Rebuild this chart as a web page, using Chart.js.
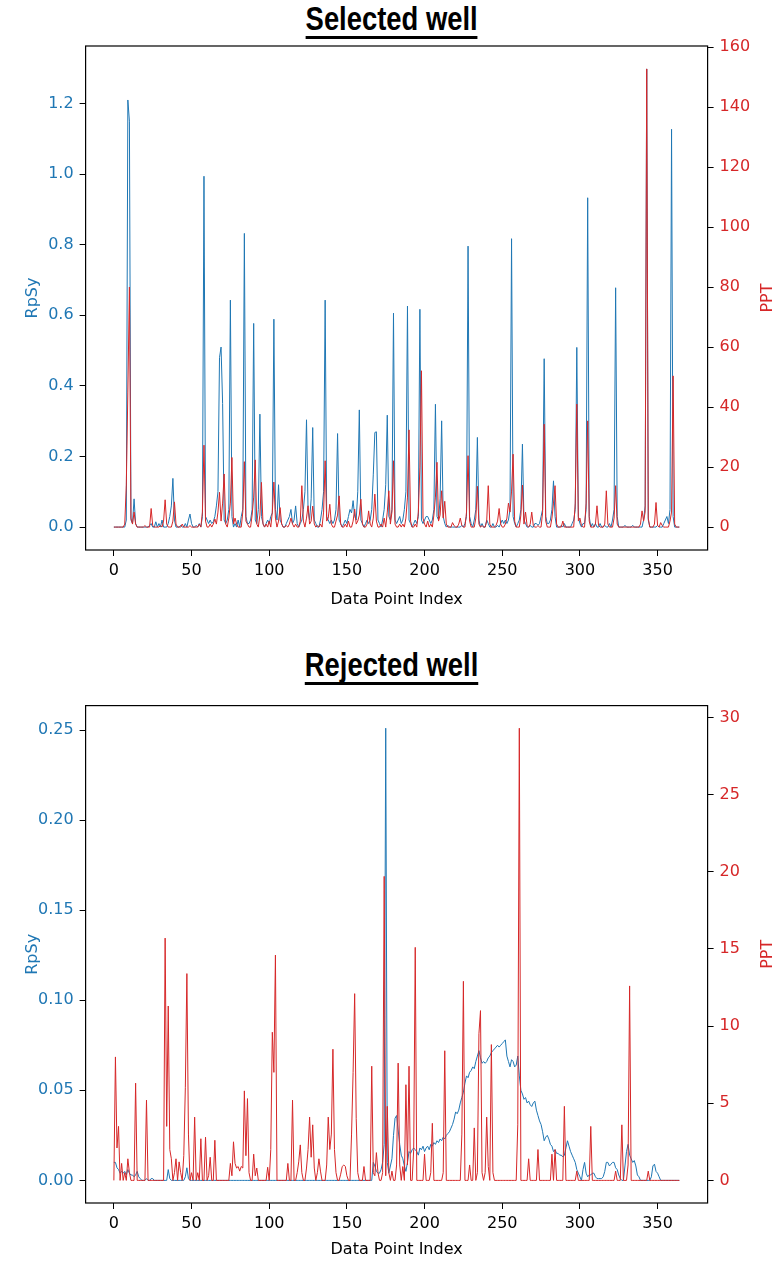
<!DOCTYPE html>
<html>
<head>
<meta charset="utf-8">
<script src="https://cdn.jsdelivr.net/npm/chart.js@4.4.0/dist/chart.umd.min.js"></script>
<style>
  html, body { margin: 0; padding: 0; background: #fff; }
  body { position: relative; width: 777px; height: 1263px; overflow: hidden; }
  canvas { position: absolute; left: 0; }
  .titulo {
    position: absolute; left: 0; width: 784px; text-align: center;
    font-family: "Liberation Sans Narrow", "Liberation Sans", Arial, sans-serif;
    font-weight: bold; font-size: 33px; line-height: 33px; color: #000;
  }
  .titulo span {
    display: inline-block; border-bottom: 3px solid #000; padding-bottom: 1px;
    transform: scaleX(0.83); transform-origin: center;
  }
</style>
</head>
<body>
<div class="titulo" style="top:2px"><span>Selected well</span></div>
<canvas id="cSel" width="777" height="590" style="top:30px"></canvas>
<div class="titulo" style="top:648px"><span>Rejected well</span></div>
<canvas id="cRej" width="777" height="573" style="top:690px"></canvas>
<script>
/* Dados: indice 0..364 */
var X_TICKS = [0, 50, 100, 150, 200, 250, 300, 350];
var SEL_RPSY_TICKS = [0, 0.2, 0.4, 0.6, 0.8, 1.0, 1.2];
var SEL_PPT_TICKS = [0, 20, 40, 60, 80, 100, 120, 140, 160];
var REJ_RPSY_TICKS = [0, 0.05, 0.10, 0.15, 0.20, 0.25];
var REJ_PPT_TICKS = [0, 5, 10, 15, 20, 25, 30];

var selRpSy = [
  0, 0, 0, 0, 0, 0, 0, 0, 0.02, 1.21,
  1.15, 0.02, 0.01, 0.08, 0.01, 0, 0, 0, 0, 0,
  0, 0, 0, 0.005, 0.01, 0, 0, 0.015, 0, 0.01,
  0, 0.02, 0, 0, 0, 0.01, 0.03, 0.06, 0.138, 0.02,
  0, 0, 0, 0.005, 0, 0, 0.01, 0, 0.02, 0.037,
  0.01, 0, 0, 0.005, 0, 0.01, 0, 0.03, 0.994, 0.03,
  0.02, 0.01, 0.02, 0.01, 0.015, 0.03, 0.06, 0.1, 0.48, 0.51,
  0.35, 0.02, 0.01, 0.02, 0.05, 0.643, 0.03, 0, 0.01, 0,
  0.02, 0, 0.03, 0.05, 0.832, 0.03, 0.01, 0.01, 0.02, 0.05,
  0.577, 0.02, 0.01, 0.05, 0.32, 0.03, 0.01, 0, 0.01, 0.02,
  0.01, 0.03, 0.04, 0.589, 0.05, 0.02, 0.12, 0.02, 0.01, 0,
  0, 0.01, 0.02, 0.03, 0.05, 0.01, 0.02, 0.06, 0.01, 0,
  0.01, 0.02, 0.05, 0.1, 0.304, 0.05, 0.02, 0.08, 0.282, 0.02,
  0.01, 0, 0, 0.02, 0.05, 0.1, 0.643, 0.03, 0.02, 0.01,
  0.02, 0.01, 0.02, 0.05, 0.265, 0.02, 0.01, 0, 0.01, 0.02,
  0.01, 0.03, 0.05, 0.04, 0.075, 0.03, 0.02, 0.1, 0.332, 0.02,
  0.01, 0, 0.01, 0.02, 0.01, 0.02, 0.05, 0.15, 0.268, 0.27,
  0.02, 0.01, 0, 0.02, 0.05, 0.12, 0.317, 0.03, 0.02, 0.05,
  0.606, 0.02, 0.01, 0.02, 0.03, 0.01, 0.02, 0.05, 0.1, 0.626,
  0.02, 0.01, 0, 0.01, 0.02, 0.01, 0.03, 0.617, 0.02, 0.01,
  0.02, 0.03, 0.03, 0.02, 0.01, 0.02, 0.05, 0.348, 0.03, 0.02,
  0.08, 0.301, 0.03, 0.01, 0, 0.005, 0, 0, 0, 0,
  0, 0, 0, 0, 0.005, 0, 0.01, 0.03, 0.796, 0.03,
  0.01, 0, 0.02, 0.05, 0.254, 0.02, 0, 0.01, 0, 0,
  0.02, 0.01, 0, 0, 0.01, 0, 0, 0.005, 0, 0.01,
  0.02, 0.01, 0.02, 0.01, 0.02, 0.05, 0.817, 0.03, 0.01, 0,
  0.01, 0.02, 0.05, 0.235, 0.02, 0.01, 0, 0, 0.005, 0,
  0, 0.01, 0.01, 0.005, 0.01, 0.03, 0.05, 0.477, 0.03, 0.01,
  0.01, 0.02, 0.05, 0.131, 0.03, 0, 0, 0, 0.005, 0,
  0.01, 0, 0, 0, 0, 0.01, 0.02, 0.05, 0.509, 0.03,
  0.01, 0, 0.01, 0.01, 0.05, 0.933, 0.03, 0, 0.01, 0,
  0.01, 0, 0, 0.01, 0, 0, 0.005, 0, 0, 0.01,
  0, 0.02, 0.05, 0.678, 0.03, 0, 0, 0, 0, 0.005,
  0, 0, 0, 0, 0.005, 0, 0, 0, 0, 0,
  0, 0.02, 0.06, 1.298, 0.02, 0, 0, 0, 0, 0,
  0.005, 0, 0, 0, 0.01, 0.02, 0.03, 0.01, 0.05, 1.127,
  0.03, 0, 0, 0, 0
];

var selPPT = [
  0, 0, 0, 0, 0, 0, 0, 1, 14, 45,
  80, 3, 1, 5, 1, 0, 0, 0, 0, 0,
  0.5, 0, 0, 0, 6.2, 0.5, 0, 0, 0, 0,
  0.5, 0, 2, 9.1, 1, 0, 0, 0, 2, 8.4,
  1, 0, 0, 0, 1, 0, 0, 0, 0, 0.5,
  0, 0, 0, 0, 0, 1, 0, 5, 27.3, 2,
  0, 0, 1, 0, 1, 2.7, 1, 5, 11.6, 2,
  8, 17.7, 1, 0, 3, 8, 23.2, 1, 3, 1,
  0, 0, 0, 5, 21.8, 2, 1, 0, 0, 4,
  10, 22.4, 1, 0, 4, 14.9, 1, 0, 1, 0,
  2, 0, 5, 15, 3, 0, 2, 6.5, 1, 0,
  0, 0.5, 0, 1, 3, 1, 0, 1, 0, 0,
  2, 13.8, 2, 0, 3, 7.1, 1, 2, 7, 1,
  0, 0.5, 0, 1, 0, 5, 22.1, 2, 3, 7.6,
  1, 0, 0, 2, 4, 10.4, 1, 0, 0, 1,
  0, 2, 0, 0, 2, 6, 1, 2, 4, 9.3,
  1, 0, 0, 1, 5.4, 1, 0, 3, 11, 2,
  0, 0, 1, 0, 3, 0, 5, 12.1, 1, 5,
  22.1, 1, 0, 0, 1, 0, 1, 0, 3, 10,
  32.4, 2, 0, 0, 1, 0, 5, 20, 52.1, 3,
  1, 0, 2, 0, 1, 0, 4, 10, 21.6, 2,
  4, 12.1, 3, 8.6, 1, 0, 0, 0, 1.5, 0.5,
  0, 0, 1, 3, 0.5, 0, 0, 5, 23.8, 2,
  0, 0, 0, 3, 13.6, 1, 0, 0.5, 0, 0,
  2, 13.8, 1, 0, 0, 0, 0.5, 2, 6.2, 1,
  0, 0, 1, 3, 8, 5, 12, 24.3, 2, 0,
  0, 0, 4, 14, 1, 5, 0.5, 0, 1, 5,
  0.5, 0, 0, 0.5, 0, 0, 5, 34.3, 2, 0,
  0, 0, 3, 8, 13.8, 1, 0, 0, 0, 2,
  0, 0, 0, 0, 0, 0, 0, 8, 41, 2,
  3, 0.5, 0, 0, 8, 35.4, 2, 0, 0, 0,
  1, 7.1, 0.5, 0, 0, 0, 1, 12.1, 1, 0,
  0, 0, 3, 13.8, 1, 0, 0, 0, 0, 0,
  0, 0, 0, 0, 0, 0, 0, 0, 0, 1,
  5.4, 2, 5, 152.7, 3, 0, 0, 0, 1, 8.2,
  0.5, 0, 1.5, 0.5, 0, 0, 0, 0, 2, 5,
  50.4, 1, 0, 0, 0
];

var rejRpSy = [
  0.01, 0.01, 0.007, 0.006, 0.004, 0.005, 0.004, 0.005, 0.003, 0.006,
  0.004, 0.003, 0.003, 0.002, 0.003, 0.005, 0.002, 0.001, 0, 0,
  0, 0.001, 0, 0, 0.001, 0.001, 0, 0, 0, 0,
  0, 0, 0, 0, 0, 0.006, 0.001, 0, 0, 0,
  0, 0, 0, 0, 0, 0, 0.002, 0.007, 0.001, 0,
  0, 0, 0, 0, 0, 0, 0, 0, 0, 0,
  0, 0, 0, 0, 0, 0, 0, 0, 0, 0,
  0, 0, 0, 0, 0, 0, 0, 0, 0, 0,
  0, 0, 0, 0, 0, 0, 0, 0, 0, 0,
  0, 0, 0, 0, 0, 0, 0, 0, 0, 0,
  0, 0, 0, 0, 0, 0, 0, 0, 0, 0,
  0, 0, 0, 0, 0, 0, 0, 0, 0, 0,
  0, 0, 0, 0, 0, 0, 0, 0, 0, 0,
  0, 0, 0, 0, 0, 0, 0, 0, 0, 0,
  0, 0, 0, 0, 0, 0, 0, 0, 0, 0,
  0, 0, 0, 0, 0, 0, 0, 0, 0, 0,
  0, 0, 0, 0, 0, 0, 0, 0.01, 0.008, 0.005,
  0.004, 0.004, 0.006, 0.01, 0.02, 0.251, 0.01, 0.004, 0.008, 0.012,
  0.025, 0.0345, 0.036, 0.028, 0.02, 0.014, 0.012, 0.008, 0.005, 0.01,
  0.016, 0.015, 0.017, 0.018, 0.017, 0.016, 0.014, 0.018, 0.017, 0.019,
  0.016, 0.018, 0.019, 0.017, 0.02, 0.019, 0.021, 0.02, 0.022, 0.021,
  0.023, 0.022, 0.024, 0.023, 0.025, 0.026, 0.027, 0.029, 0.031, 0.034,
  0.038, 0.037, 0.039, 0.043, 0.046, 0.049, 0.054, 0.058, 0.057, 0.06,
  0.061, 0.063, 0.062, 0.066, 0.069, 0.072, 0.068, 0.065, 0.066, 0.065,
  0.066, 0.068, 0.069, 0.071, 0.072, 0.073, 0.074, 0.075, 0.074, 0.075,
  0.076, 0.077, 0.078, 0.069, 0.066, 0.063, 0.067, 0.066, 0.063, 0.064,
  0.069, 0.058, 0.05, 0.048, 0.045, 0.046, 0.043, 0.044, 0.042, 0.041,
  0.043, 0.044, 0.039, 0.036, 0.033, 0.031, 0.027, 0.022, 0.024, 0.025,
  0.023, 0.02, 0.019, 0.016, 0.017, 0.015, 0.015, 0.014, 0.014, 0.013,
  0.014, 0.018, 0.022, 0.019, 0.016, 0.014, 0.012, 0.01, 0.006, 0.004,
  0.002, 0, 0.006, 0.01, 0.004, 0.002, 0.003, 0.003, 0.004, 0.004,
  0.002, 0.001, 0.001, 0.001, 0.001, 0.002, 0.005, 0.01, 0.01, 0.008,
  0.009, 0.01, 0.01, 0.007, 0.006, 0.003, 0.001, 0, 0, 0.008,
  0.016, 0.02, 0.014, 0.012, 0.01, 0.011, 0.008, 0.003, 0.002, 0,
  0, 0, 0, 0, 0, 0, 0.002, 0.008, 0.009, 0.005,
  0.004, 0.002, 0, 0, 0, 0, 0, 0, 0, 0,
  0, 0, 0, 0, 0
];

var rejPPT = [
  0, 8, 2.1, 3.5, 0, 1.1, 0, 0.5, 0, 1.4,
  0.5, 0, 0, 0, 6.3, 0, 0, 0, 0, 0,
  0, 5.2, 0, 0, 0, 0, 0, 0, 0, 0,
  0, 0, 0, 15.7, 3.5, 11.3, 2, 1.4, 0, 0.5,
  1.4, 0, 1.2, 0.5, 0, 1.6, 6, 13.4, 3, 0,
  0.5, 0, 4.1, 0, 0.5, 0, 2.7, 0, 0, 2.8,
  0, 0.3, 1.5, 0, 0, 2.6, 0, 0, 0, 0,
  0, 0, 0, 0, 0, 1.1, 0.3, 2.5, 1.1, 0.8,
  0.9, 0.6, 0.9, 0.8, 5.8, 1.6, 5.3, 0.5, 0, 0,
  1.7, 0.3, 0.8, 0, 0, 0, 0, 0, 0, 0.85,
  0, 2, 9.6, 7, 14.6, 0, 0, 0, 0, 0,
  0, 0, 1.1, 0, 0, 5.2, 0, 0, 0.5, 1.2,
  2.3, 0.5, 0, 0, 0.8, 2, 4.1, 1.5, 3.6, 0.8,
  0, 0.5, 1.4, 0.6, 0, 0, 0, 1, 4.1, 2,
  3, 8.5, 2, 0.5, 0, 0, 0.4, 0.9, 1, 0.9,
  0.3, 0, 0, 3, 7, 12.1, 4, 0.5, 0, 0,
  0, 0.9, 0, 0, 0, 0, 7.4, 0.5, 0.3, 1.8,
  0.5, 0, 0, 0.5, 19.7, 0.3, 4.8, 0.5, 0, 0.6,
  0, 0, 1, 7.6, 1, 0, 0.9, 0, 6.2, 1,
  7.4, 0, 0, 2, 15.1, 0, 0, 0, 0, 0,
  1.7, 0, 0, 0, 0.5, 3.7, 0, 0, 0, 0,
  0, 0, 0.5, 8.4, 0, 0, 0, 0, 0, 0,
  0, 0, 0, 0, 3, 12.9, 0, 0, 0, 1,
  0, 0, 3.4, 0, 0.5, 9.5, 11, 0.5, 0, 0.5,
  4.1, 0.9, 0, 8.8, 0.5, 0, 0, 0, 0, 0,
  0, 0, 0, 0, 0, 0, 0, 0, 0, 0,
  3.6, 29.3, 0, 0, 0, 0, 0, 1.4, 0, 0,
  0, 0, 0, 2, 0, 0, 0, 0, 0, 0,
  0, 0, 1.7, 0, 2, 0, 0, 0, 0, 0,
  4.8, 0, 0, 0, 0, 0, 0, 0, 0.6, 0,
  0, 0, 0, 0, 0, 0, 0, 3.5, 0, 0,
  0, 0, 0, 0, 0, 0, 0, 0, 0, 0,
  0, 0, 0, 0.6, 0, 0, 0, 3.6, 0, 0,
  0, 1, 12.6, 0, 0, 0, 0, 0, 0, 0,
  0, 0, 0, 0, 0.6, 0, 0, 0, 0, 0,
  0, 0, 0, 0, 0, 0, 0, 0, 0, 0,
  0, 0, 0, 0, 0
];

var AZUL = "#1f77b4";
var VERMELHO = "#d62728";
var FONTE = "'DejaVu Sans', sans-serif";

// moldura + titulos dos eixos (matplotlib style)
var molduraPlugin = {
  id: "moldura",
  afterDraw: function (chart, args, o) {
    var a = chart.chartArea, ctx = chart.ctx;
    ctx.save();
    ctx.strokeStyle = "#000";
    ctx.lineWidth = 1.2;
    ctx.strokeRect(a.left, a.top, a.right - a.left, a.bottom - a.top);
    ctx.font = "16px " + FONTE;
    ctx.textAlign = "center";
    ctx.textBaseline = "middle";
    ctx.fillStyle = "#000";
    ctx.fillText("Data Point Index", (a.left + a.right) / 2, o.xTitleY);
    var meio = (a.top + a.bottom) / 2;
    ctx.fillStyle = AZUL;
    ctx.translate(o.yTitleLeftX, meio);
    ctx.rotate(-Math.PI / 2);
    ctx.fillText("RpSy", 0, 0);
    ctx.restore();
    ctx.save();
    ctx.font = "16px " + FONTE;
    ctx.textAlign = "center";
    ctx.textBaseline = "middle";
    ctx.fillStyle = VERMELHO;
    ctx.translate(o.yTitleRightX, meio);
    ctx.rotate(-Math.PI / 2);
    ctx.fillText("PPT", 0, 0);
    ctx.restore();
  }
};

function pontos(arr) {
  return arr.map(function (v, i) { return { x: i, y: v }; });
}

function fixarTicks(lista) {
  return function (s) { s.ticks = lista.map(function (v) { return { value: v }; }); };
}

function grafico(id, cfg) {
  var tickGrid = { drawOnChartArea: false, color: "#000", tickLength: 6, tickWidth: 1 };
  return new Chart(document.getElementById(id), {
    type: "line",
    data: {
      datasets: [
        { label: "RpSy", data: pontos(cfg.azul), yAxisID: "yL", borderColor: AZUL, borderWidth: 1, order: 2 },
        { label: "PPT", data: pontos(cfg.vermelho), yAxisID: "yR", borderColor: VERMELHO, borderWidth: 1, order: 1 }
      ]
    },
    options: {
      responsive: false,
      animation: false,
      devicePixelRatio: 1,
      layout: { padding: { top: cfg.topo, left: 0, right: 0, bottom: 0 } },
      elements: { point: { radius: 0 }, line: { tension: 0 } },
      plugins: {
        legend: { display: false },
        tooltip: { enabled: false },
        moldura: { xTitleY: cfg.xTitleY, yTitleLeftX: 33, yTitleRightX: 768 }
      },
      scales: {
        x: {
          type: "linear", min: -18.2, max: 382.2,
          afterBuildTicks: fixarTicks(X_TICKS),
          afterFit: function (s) { s.height = cfg.alturaX; },
          grid: tickGrid, border: { display: false },
          ticks: { color: "#000", font: { family: FONTE, size: 16 }, padding: 5, maxRotation: 0, autoSkip: false,
                   callback: function (v) { return String(v); } }
        },
        yL: {
          position: "left", min: cfg.azulMin, max: cfg.azulMax,
          afterBuildTicks: fixarTicks(cfg.azulTicks),
          afterFit: function (s) { s.width = 85.6; },
          grid: tickGrid, border: { display: false },
          ticks: { color: AZUL, font: { family: FONTE, size: 16 }, padding: 6,
                   callback: function (v) { return v.toFixed(cfg.casas); } }
        },
        yR: {
          position: "right", min: cfg.vermMin, max: cfg.vermMax,
          afterBuildTicks: fixarTicks(cfg.vermTicks),
          afterFit: function (s) { s.width = 69.4; },
          grid: tickGrid, border: { display: false },
          ticks: { color: VERMELHO, font: { family: FONTE, size: 16 }, padding: 6,
                   callback: function (v) { return String(v); } }
        }
      }
    },
    plugins: [molduraPlugin]
  });
}

grafico("cSel", {
  azul: selRpSy, vermelho: selPPT,
  topo: 16, alturaX: 70, xTitleY: 570,
  azulMin: -0.0649, azulMax: 1.3629, azulTicks: SEL_RPSY_TICKS, casas: 1,
  vermMin: -7.635, vermMax: 160.335, vermTicks: SEL_PPT_TICKS
});

grafico("cRej", {
  azul: rejRpSy, vermelho: rejPPT,
  topo: 8, alturaX: 60, xTitleY: 560,
  azulMin: -0.01255, azulMax: 0.26355, azulTicks: REJ_RPSY_TICKS, casas: 2,
  vermMin: -1.465, vermMax: 30.765, vermTicks: REJ_PPT_TICKS
});
</script>
</body>
</html>
